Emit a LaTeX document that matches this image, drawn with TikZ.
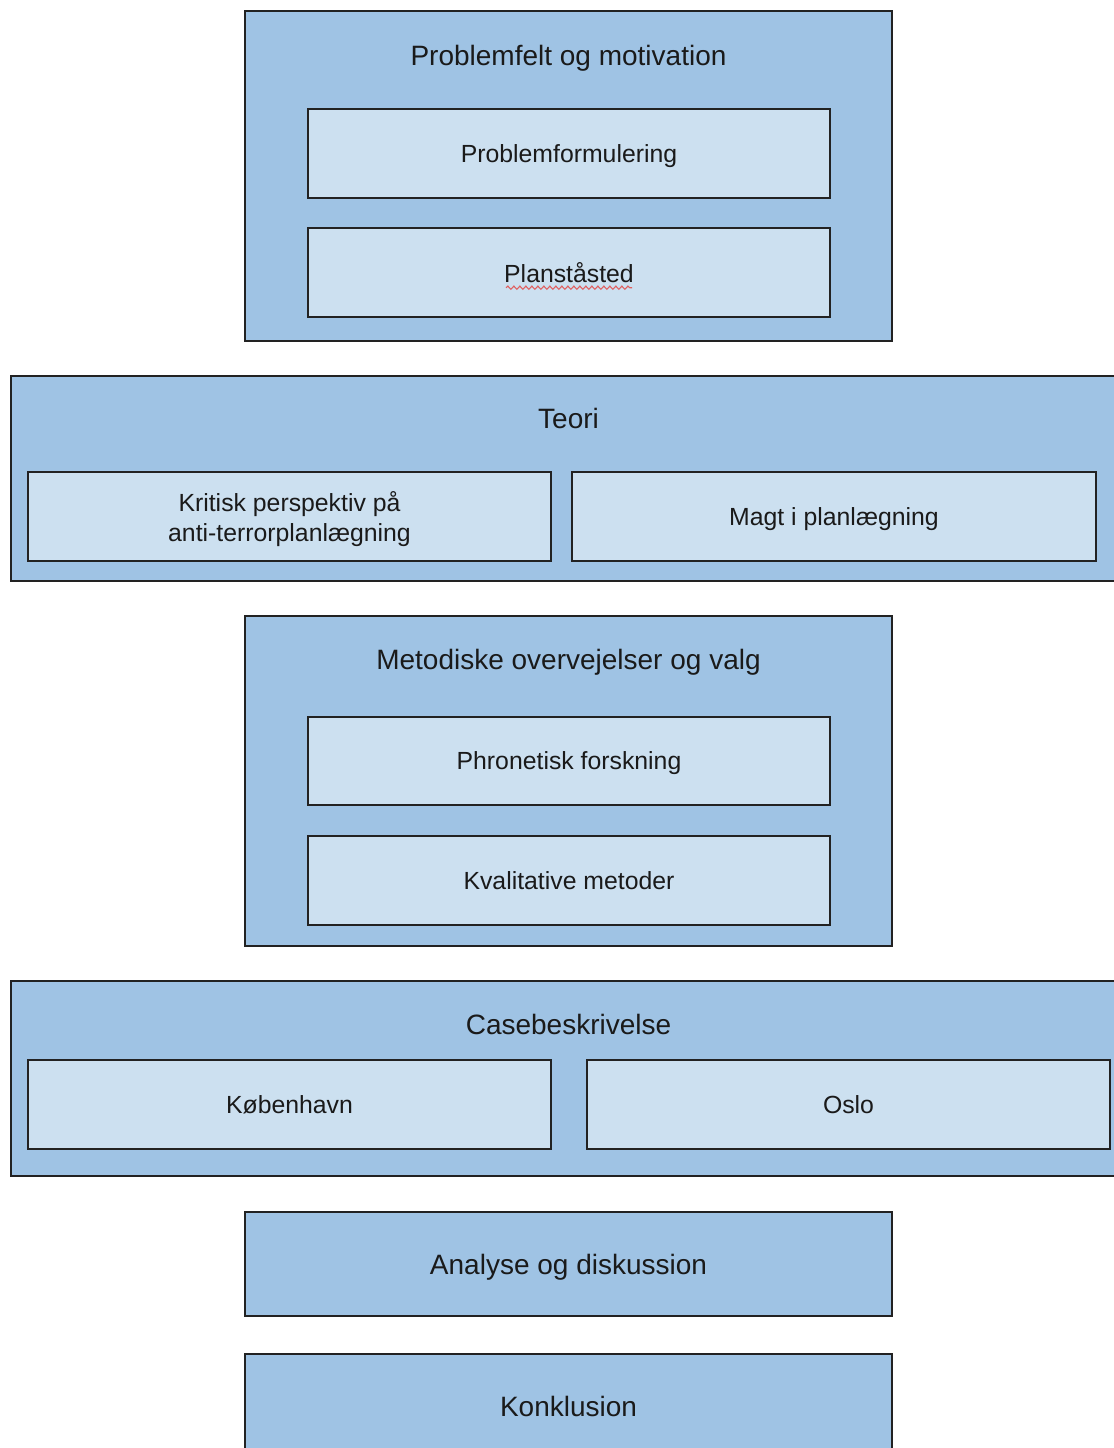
\documentclass[tikz,border=0pt]{standalone}
\usepackage{fontspec}
\setmainfont{Liberation Sans}
\usetikzlibrary{decorations.pathmorphing}
\definecolor{outerfill}{HTML}{9FC3E4}
\definecolor{innerfill}{HTML}{CCE0F0}
\definecolor{edge}{HTML}{222222}
\definecolor{ink}{HTML}{1A1A1A}
\definecolor{spell}{HTML}{E06060}
\begin{document}
\begin{tikzpicture}[x=0.5pt,y=-0.5pt,
  outerbox/.style={draw=edge,fill=outerfill,line width=1.1pt,inner sep=0pt,rectangle},
  innerbox/.style={draw=edge,fill=innerfill,line width=1.1pt,inner sep=0pt,rectangle,
    minimum height=44.5pt,font=\fontsize{12.4}{15}\selectfont,text=ink,align=center,text depth=0pt},
  title/.style={font=\fontsize{14}{17}\selectfont,text=ink,inner sep=0pt,text depth=0pt}]
\useasboundingbox (0,0) rectangle (1114,1448);
\clip (0,0) rectangle (1114,1448);
\fill[white] (0,0) rectangle (1114,1448);

% Problemfelt og motivation
\node[outerbox,minimum width=323.5pt,minimum height=165pt] (pm) at (568.5,176) {};
\node[title] (pmt) at (568.5,55) {Problemfelt og motivation};
\node[innerbox,minimum width=261pt] (pf) at (569,153.5) {Problemformulering};
\node[innerbox,minimum width=261pt] (ps) at (569,272.5) {Planståsted};
\draw[spell,line width=0.55pt,decorate,decoration={snake,segment length=3pt,amplitude=0.8pt}]
  ([xshift=-31.5pt,yshift=-7.6pt]ps.center) -- ([xshift=31.5pt,yshift=-7.6pt]ps.center);

% Teori
\node[outerbox,minimum width=559.5pt,minimum height=102.5pt] (te) at (570.5,478.5) {};
\node[title] (tet) at (568.5,418) {Teori};
\node[innerbox,minimum width=261.5pt] (kp) at (289.5,516.5) {Kritisk perspektiv på\\anti-terrorplanlægning};
\node[innerbox,minimum width=262pt] (mp) at (834,516.5) {Magt i planlægning};

% Metodiske overvejelser og valg
\node[outerbox,minimum width=323.5pt,minimum height=165pt] (me) at (568.5,781) {};
\node[title] (met) at (568.5,659) {Metodiske overvejelser og valg};
\node[innerbox,minimum width=261pt,minimum height=44pt] (ph) at (569,761) {Phronetisk forskning};
\node[innerbox,minimum width=261pt] (kv) at (569,880.5) {Kvalitative metoder};

% Casebeskrivelse
\node[outerbox,minimum width=559.5pt,minimum height=97.5pt] (cb) at (570.5,1078.5) {};
\node[title] (cbt) at (568.5,1024) {Casebeskrivelse};
\node[innerbox,minimum width=261.5pt] (kb) at (289.5,1104.5) {København};
\node[innerbox,minimum width=261.5pt] (os) at (848.5,1104.5) {Oslo};

% Analyse og diskussion
\node[outerbox,minimum width=323.5pt,minimum height=52pt,title] (an) at (568.5,1264) {Analyse og diskussion};

% Konklusion
\node[outerbox,minimum width=323.5pt,minimum height=58pt] (ko) at (568.5,1412) {};
\node[title] (kot) at (568.5,1406) {Konklusion};
\end{tikzpicture}
\end{document}
